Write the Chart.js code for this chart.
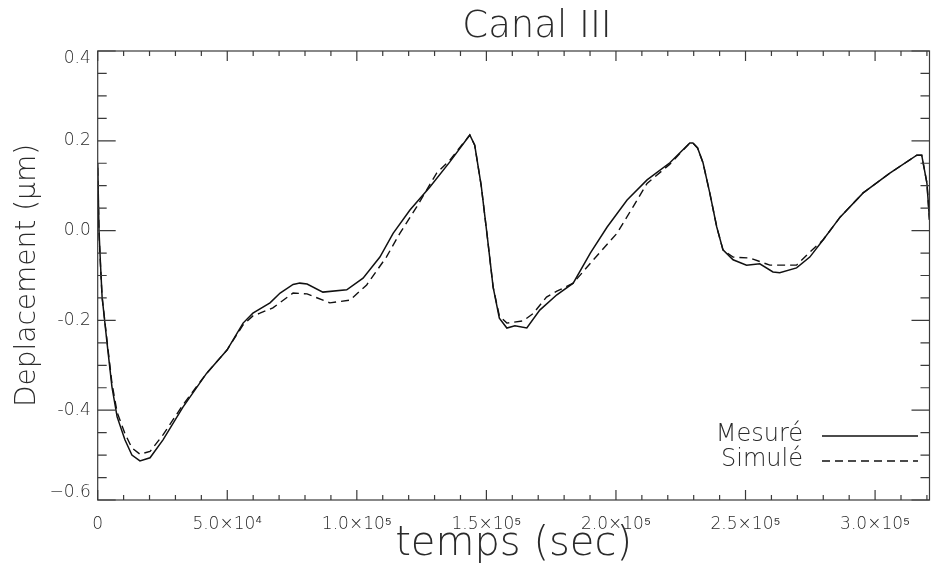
<!DOCTYPE html>
<html><head><meta charset="utf-8">
<script src="https://cdn.jsdelivr.net/npm/chart.js@4/dist/chart.umd.min.js"></script>
<style>html,body{margin:0;padding:0;background:#fff}#wrap{width:932px;height:570px}</style>
</head><body><div id="wrap"><canvas id="c" width="932" height="570"></canvas></div>
<script>
const chartTitle = "Canal III";
const xAxisTitle = "temps (sec)";
const yAxisTitle = "Deplacement (\u03bcm)";
const seriesNames = ["Mesuré", "Simulé"];

const xTickValues = [0, 50000, 100000, 150000, 200000, 250000, 300000];
const xTickLabels = ["0", "5.0\u00d710\u2074", "1.0\u00d710\u2075", "1.5\u00d710\u2075", "2.0\u00d710\u2075", "2.5\u00d710\u2075", "3.0\u00d710\u2075"];
const yTickValues = [-0.6, -0.4, -0.2, 0.0, 0.2, 0.4];
const yTickLabels = ["\u22120.6", "-0.4", "-0.2", "0.0", "0.2", "0.4"];
const xRange = [0, 321000];
const yRange = [-0.6, 0.4];

const tMesure = [0, 500, 1100, 1700, 3600, 5500, 7500, 10500, 13200, 16300, 20200, 25200, 32900, 42000, 49900, 56100, 59900, 66500, 70400, 75400, 78000, 80800, 86900, 96100, 102400, 108900, 114000, 120500, 128200, 135900, 143600, 145500, 148000, 150200, 152600, 155000, 157900, 161000, 165600, 170600, 177200, 183500, 190100, 196600, 204300, 212000, 220800, 228500, 229700, 231500, 233600, 236200, 238900, 241300, 245200, 250400, 255500, 260600, 263200, 269700, 274800, 279900, 286500, 295400, 305700, 316100, 318000, 320000, 321000];
const yMesure = [0.15, 0.0, -0.077, -0.148, -0.25, -0.348, -0.415, -0.466, -0.5, -0.513, -0.506, -0.466, -0.393, -0.318, -0.266, -0.206, -0.184, -0.161, -0.139, -0.12, -0.117, -0.119, -0.137, -0.132, -0.106, -0.059, -0.006, 0.046, 0.097, 0.153, 0.213, 0.19, 0.1, -0.006, -0.126, -0.195, -0.217, -0.212, -0.217, -0.177, -0.143, -0.117, -0.05, 0.008, 0.068, 0.113, 0.151, 0.195, 0.195, 0.184, 0.151, 0.084, 0.008, -0.043, -0.065, -0.077, -0.074, -0.092, -0.094, -0.083, -0.059, -0.021, 0.030, 0.084, 0.128, 0.168, 0.168, 0.106, 0.024];

const tSimule = [0, 500, 1100, 1700, 3600, 5500, 7500, 10500, 13200, 16300, 20200, 25200, 32900, 42000, 49900, 56100, 59900, 62600, 67600, 75400, 80800, 89600, 97300, 103800, 111400, 116600, 123100, 130800, 135900, 143600, 145500, 148000, 150200, 152600, 155000, 157900, 164200, 168000, 173200, 177200, 183500, 191300, 200400, 206600, 212000, 220800, 228500, 229700, 231500, 233600, 236200, 238900, 241300, 245200, 251700, 259400, 269700, 274800, 279900, 286500, 295400, 305700, 316100, 318000, 320000, 321000];
const ySimule = [0.14, -0.005, -0.08, -0.148, -0.245, -0.34, -0.405, -0.452, -0.484, -0.498, -0.492, -0.455, -0.388, -0.318, -0.266, -0.21, -0.19, -0.184, -0.172, -0.139, -0.141, -0.161, -0.155, -0.121, -0.059, -0.006, 0.053, 0.128, 0.157, 0.213, 0.19, 0.1, -0.006, -0.126, -0.19, -0.206, -0.201, -0.185, -0.148, -0.135, -0.117, -0.065, -0.006, 0.053, 0.105, 0.148, 0.195, 0.195, 0.184, 0.151, 0.084, 0.008, -0.043, -0.059, -0.061, -0.077, -0.077, -0.048, -0.021, 0.030, 0.084, 0.128, 0.168, 0.168, 0.106, 0.024];

const FONT = "'DejaVu Sans', 'Liberation Sans', sans-serif";
const TEXT = '#2a2a2a';
const AXIS = '#3a3a3a';

const idlFrame = {
  id: 'idlFrame',
  afterDatasetsDraw(chart) {
    const ctx = chart.ctx, a = chart.chartArea;
    const xs = chart.scales.x, ys = chart.scales.y;
    ctx.save();
    ctx.strokeStyle = AXIS; ctx.lineWidth = 1.2;
    ctx.strokeRect(a.left, a.top, a.right - a.left, a.bottom - a.top);
    ctx.beginPath();
    const xStep = xTickValues[1] - xTickValues[0];
    for (let v = 0; v <= xRange[1]; v += xStep / 5) {
      const px = xs.getPixelForValue(v);
      if (px > a.right + 0.5) break;
      const major = Math.abs(v / xStep - Math.round(v / xStep)) < 1e-6;
      const L = major ? 10 : 5;
      ctx.moveTo(px, a.bottom); ctx.lineTo(px, a.bottom - L);
      ctx.moveTo(px, a.top); ctx.lineTo(px, a.top + L);
    }
    const yStep = yTickValues[1] - yTickValues[0];
    for (let i = 0; i <= Math.round((yRange[1] - yRange[0]) / (yStep / 4)); i++) {
      const v = yRange[0] + i * yStep / 4;
      const py = ys.getPixelForValue(v);
      const L = (i % 4 === 0) ? 18 : 9;
      ctx.moveTo(a.left, py); ctx.lineTo(a.left + L, py);
      ctx.moveTo(a.right, py); ctx.lineTo(a.right - L, py);
    }
    ctx.stroke();

    ctx.fillStyle = TEXT;
    ctx.font = "200 37px " + FONT;
    ctx.textAlign = 'center'; ctx.textBaseline = 'alphabetic';
    ctx.fillText(chartTitle, 537, 37);

    ctx.font = "200 24px " + FONT;
    ctx.textAlign = 'right'; ctx.textBaseline = 'middle';
    const rows = [436, 461];
    chart.data.datasets.forEach((ds, i) => {
      ctx.fillText(ds.label, 803, rows[i] - 1);
      ctx.beginPath();
      ctx.setLineDash(ds.borderDash || []);
      ctx.strokeStyle = ds.borderColor; ctx.lineWidth = 1.4;
      ctx.moveTo(822, rows[i]); ctx.lineTo(918, rows[i]);
      ctx.stroke();
    });
    ctx.restore();
  }
};

new Chart(document.getElementById('c'), {
  type: 'line',
  data: {
    datasets: [
      { label: seriesNames[0], data: tMesure.map((t, i) => ({ x: t, y: yMesure[i] })),
        borderColor: '#111', borderWidth: 1.5, pointRadius: 0, tension: 0, fill: false },
      { label: seriesNames[1], data: tSimule.map((t, i) => ({ x: t, y: ySimule[i] })),
        borderColor: '#111', borderWidth: 1.4, borderDash: [8, 5], pointRadius: 0, tension: 0, fill: false }
    ]
  },
  options: {
    responsive: false, animation: false, devicePixelRatio: 1,
    layout: { padding: { left: 0, right: 2.5, top: 51, bottom: 0 } },
    plugins: { legend: { display: false }, tooltip: { enabled: false }, title: { display: false } },
    scales: {
      x: {
        type: 'linear', min: xRange[0], max: xRange[1],
        afterBuildTicks: s => { s.ticks = xTickValues.map(v => ({ value: v })); },
        afterFit: s => { s.height = 70; },
        grid: { display: false, drawTicks: false }, border: { display: false },
        ticks: { autoSkip: false, maxRotation: 0, padding: 14, color: TEXT,
          font: { family: FONT, size: 17, weight: 200 },
          callback: (v) => { const k = xTickValues.indexOf(v); return k >= 0 ? xTickLabels[k] : ''; } },
        title: { display: true, text: xAxisTitle, color: TEXT,
          font: { family: FONT, size: 40, weight: 200 }, padding: { top: 0, bottom: 1 } }
      },
      y: {
        type: 'linear', min: yRange[0], max: yRange[1],
        afterBuildTicks: s => { s.ticks = yTickValues.map(v => ({ value: v })); },
        afterFit: s => { s.width = 97.7; },
        grid: { display: false, drawTicks: false }, border: { display: false },
        ticks: { autoSkip: false, padding: 7, color: TEXT,
          font: { family: FONT, size: 17, weight: 200, lineHeight: 0.9 },
          callback: (v) => {
            const k = yTickValues.findIndex(u => Math.abs(u - v) < 1e-9);
            if (k < 0) return '';
            if (k === yTickValues.length - 1) return ['', yTickLabels[k]];
            if (k === 0) return [yTickLabels[k], ''];
            return yTickLabels[k];
          } },
        title: { display: true, text: yAxisTitle, color: TEXT,
          font: { family: FONT, size: 28, weight: 200 }, padding: { top: 11, bottom: 0 } }
      }
    }
  },
  plugins: [idlFrame]
});
</script></body></html>
